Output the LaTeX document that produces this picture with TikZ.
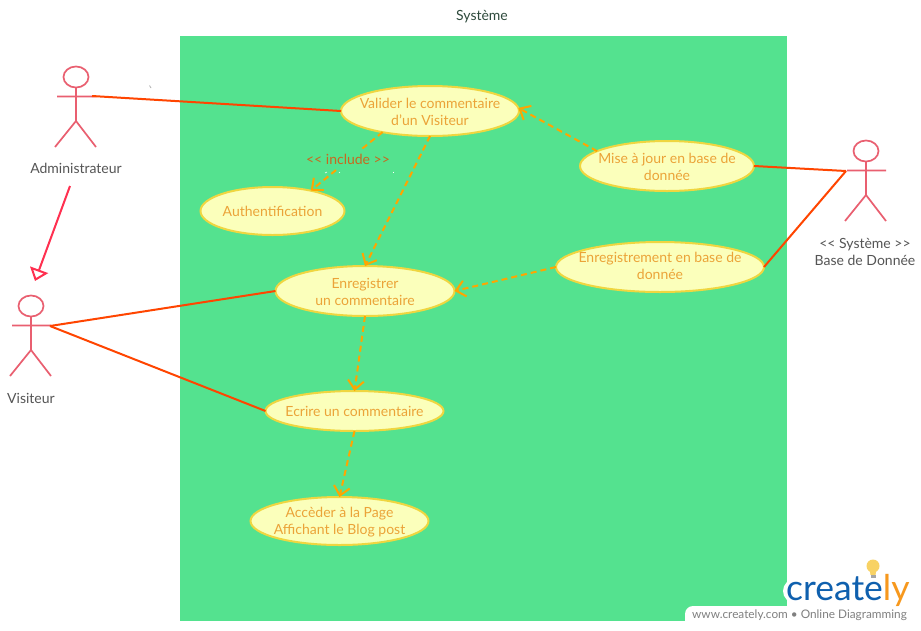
\documentclass[tikz,border=0pt]{standalone}
\usepackage{fontspec}
\setmainfont{Lato}
\usetikzlibrary{shapes.geometric,arrows.meta}
\definecolor{sysgreen}{HTML}{54E28F}
\definecolor{ucfill}{HTML}{FBFFBB}
\definecolor{ucline}{HTML}{EFD640}
\definecolor{uctext}{HTML}{EBA338}
\definecolor{assoc}{HTML}{FF4500}
\definecolor{dep}{HTML}{FFA500}
\definecolor{actorc}{HTML}{E95F70}
\definecolor{gen}{HTML}{FF3050}
\definecolor{lbl}{HTML}{555555}
\definecolor{inc}{HTML}{C8681E}
\definecolor{ctitle}{HTML}{2E4A3C}
\definecolor{cblue}{HTML}{0F60AE}
\definecolor{corange}{HTML}{F7981D}
\definecolor{cbulb}{HTML}{F8D264}
\definecolor{cgray}{HTML}{808080}
\tikzset{
  x=1pt,y=-1pt,
  usecase/.style={ellipse,draw=ucline,line width=2pt,fill=ucfill,inner sep=0pt,outer sep=0pt},
  uclabel/.style={text=uctext,inner sep=0pt,align=center,font=\fontsize{14}{17}\selectfont,yshift=-0.8pt},
  assocline/.style={draw=assoc,line width=2pt},
  depline/.style={draw=dep,line width=2pt,dash pattern=on 6pt off 4pt,
    -{Straight Barb[length=9pt,width=16pt,line width=2pt]}},
  genline/.style={draw=gen,line width=2pt,-{Triangle[open,length=12pt,width=19pt,line width=2pt,fill=white]}},
  actorline/.style={draw=actorc,line width=1.7pt},
  actorlabel/.style={text=lbl,align=center,inner sep=0pt,font=\fontsize{14}{17}\selectfont},
  speck/.style={draw=white,line width=0.6pt},
}
\newcommand{\stickman}[2]{% head centre x, y
  \begin{scope}[shift={(#1,#2)}]
    \draw[actorline] (0,0) ellipse (12.5 and 10.5);
    \draw[actorline] (0,10.5) -- (0,44) (-19,19.5) -- (20,19.5) (-21,70) -- (0,44) -- (20,70);
  \end{scope}}
\begin{document}
\begin{tikzpicture}
\useasboundingbox (0,0) rectangle (921,630);
\fill[white] (0,0) rectangle (921,630);
\fill[sysgreen] (180,36) rectangle (787,621);
\node[text=ctitle,inner sep=0pt,font=\fontsize{14}{16}\selectfont] (title) at (482,16.5) {Système};

\stickman{76}{77}
\stickman{31}{306}
\stickman{866}{151}
\node[actorlabel] (ladmin) at (76,168) {Administrateur};
\node[actorlabel] (lvis) at (31,398) {Visiteur};
\node[actorlabel] (lbd) at (865,252) {<{}< Système >{}>\\Base de Donnée};
\coordinate (admhand) at (92,96);
\coordinate (vishand) at (50,326);
\coordinate (bdhand) at (846,171);
\coordinate (genstart) at (70,186);
\coordinate (genend) at (35,281);

\node[usecase,minimum width=178pt,minimum height=50pt,label={[uclabel]center:Valider le commentaire\\d'un Visiteur}] (val) at (430,111) {};
\node[usecase,minimum width=144pt,minimum height=48pt,label={[uclabel]center:Authentification}] (auth) at (272.5,211) {};
\node[usecase,minimum width=174pt,minimum height=50pt,label={[uclabel]center:Mise à jour en base de\\donnée}] (mise) at (667,166) {};
\node[usecase,minimum width=208pt,minimum height=50pt,label={[uclabel,yshift=1.8pt]center:Enregistrement en base de\\donnée}] (enbd) at (660,267) {};
\node[usecase,minimum width=179pt,minimum height=50pt,label={[uclabel]center:Enregistrer\\un commentaire}] (enr) at (365,291) {};
\node[usecase,minimum width=178pt,minimum height=40pt,label={[uclabel]center:Ecrire un commentaire}] (ecr) at (354.5,411) {};
\node[usecase,minimum width=178pt,minimum height=48pt,label={[uclabel]center:Accèder à la Page\\Affichant le Blog post}] (acc) at (339.5,521) {};

\draw[assocline] (admhand) -- (val.west);
\draw[assocline] (vishand) -- (enr.west);
\draw[assocline] (vishand) -- (ecr.west);
\draw[assocline] (bdhand) -- (mise.east);
\draw[assocline] (bdhand) -- (enbd.east);
\draw[genline] (genstart) -- (genend);

\draw[depline] (val.204) -- (auth.28);
\node[fill=sysgreen,inner xsep=1pt,inner ysep=5pt,text=inc,font=\fontsize{14}{16}\selectfont] (incl) at (348,159) {<{}< include >{}>};
\draw[depline] (val.south) -- (enr.north);
\draw[depline] (mise.168) -- (val.2);
\draw[depline] (enbd.west) -- (enr.east);
\draw[depline] (enr.south) -- (ecr.north);
\draw[depline] (ecr.south) -- (acc.north);

% stray marks
\draw[speck] (325,173) -- (327,172);
\draw[speck] (339,173) -- (340,172);
\draw[speck] (393.5,171.5) -- (393.5,173);
\draw[gray!60,line width=0.8pt] (149.5,85.5) -- (151,88);

% logo
\fill[white,rounded corners=8pt] (685,606) rectangle (935,640);
\fill[white] (795,591) circle (12);
\fill[white] (787,577) rectangle (800,606);
\node[anchor=base west,inner sep=0pt,font=\fontsize{35.5}{40}\selectfont,text=cblue] (logo) at (786,600) {create\textcolor{corange}{ly}};
\fill[cbulb] (873,566) circle (6.5);
\fill[cbulb] (869.5,569) -- (876.5,569) -- (875.5,575) -- (870.5,575) -- cycle;
\fill[gray!70] (870.5,575) rectangle (875.5,578);
\node[anchor=base west,inner sep=0pt,text=cgray,font=\fontsize{11.8}{13}\selectfont] (foot) at (692,618) {www.creately.com • Online Diagramming};
\end{tikzpicture}
\end{document}
